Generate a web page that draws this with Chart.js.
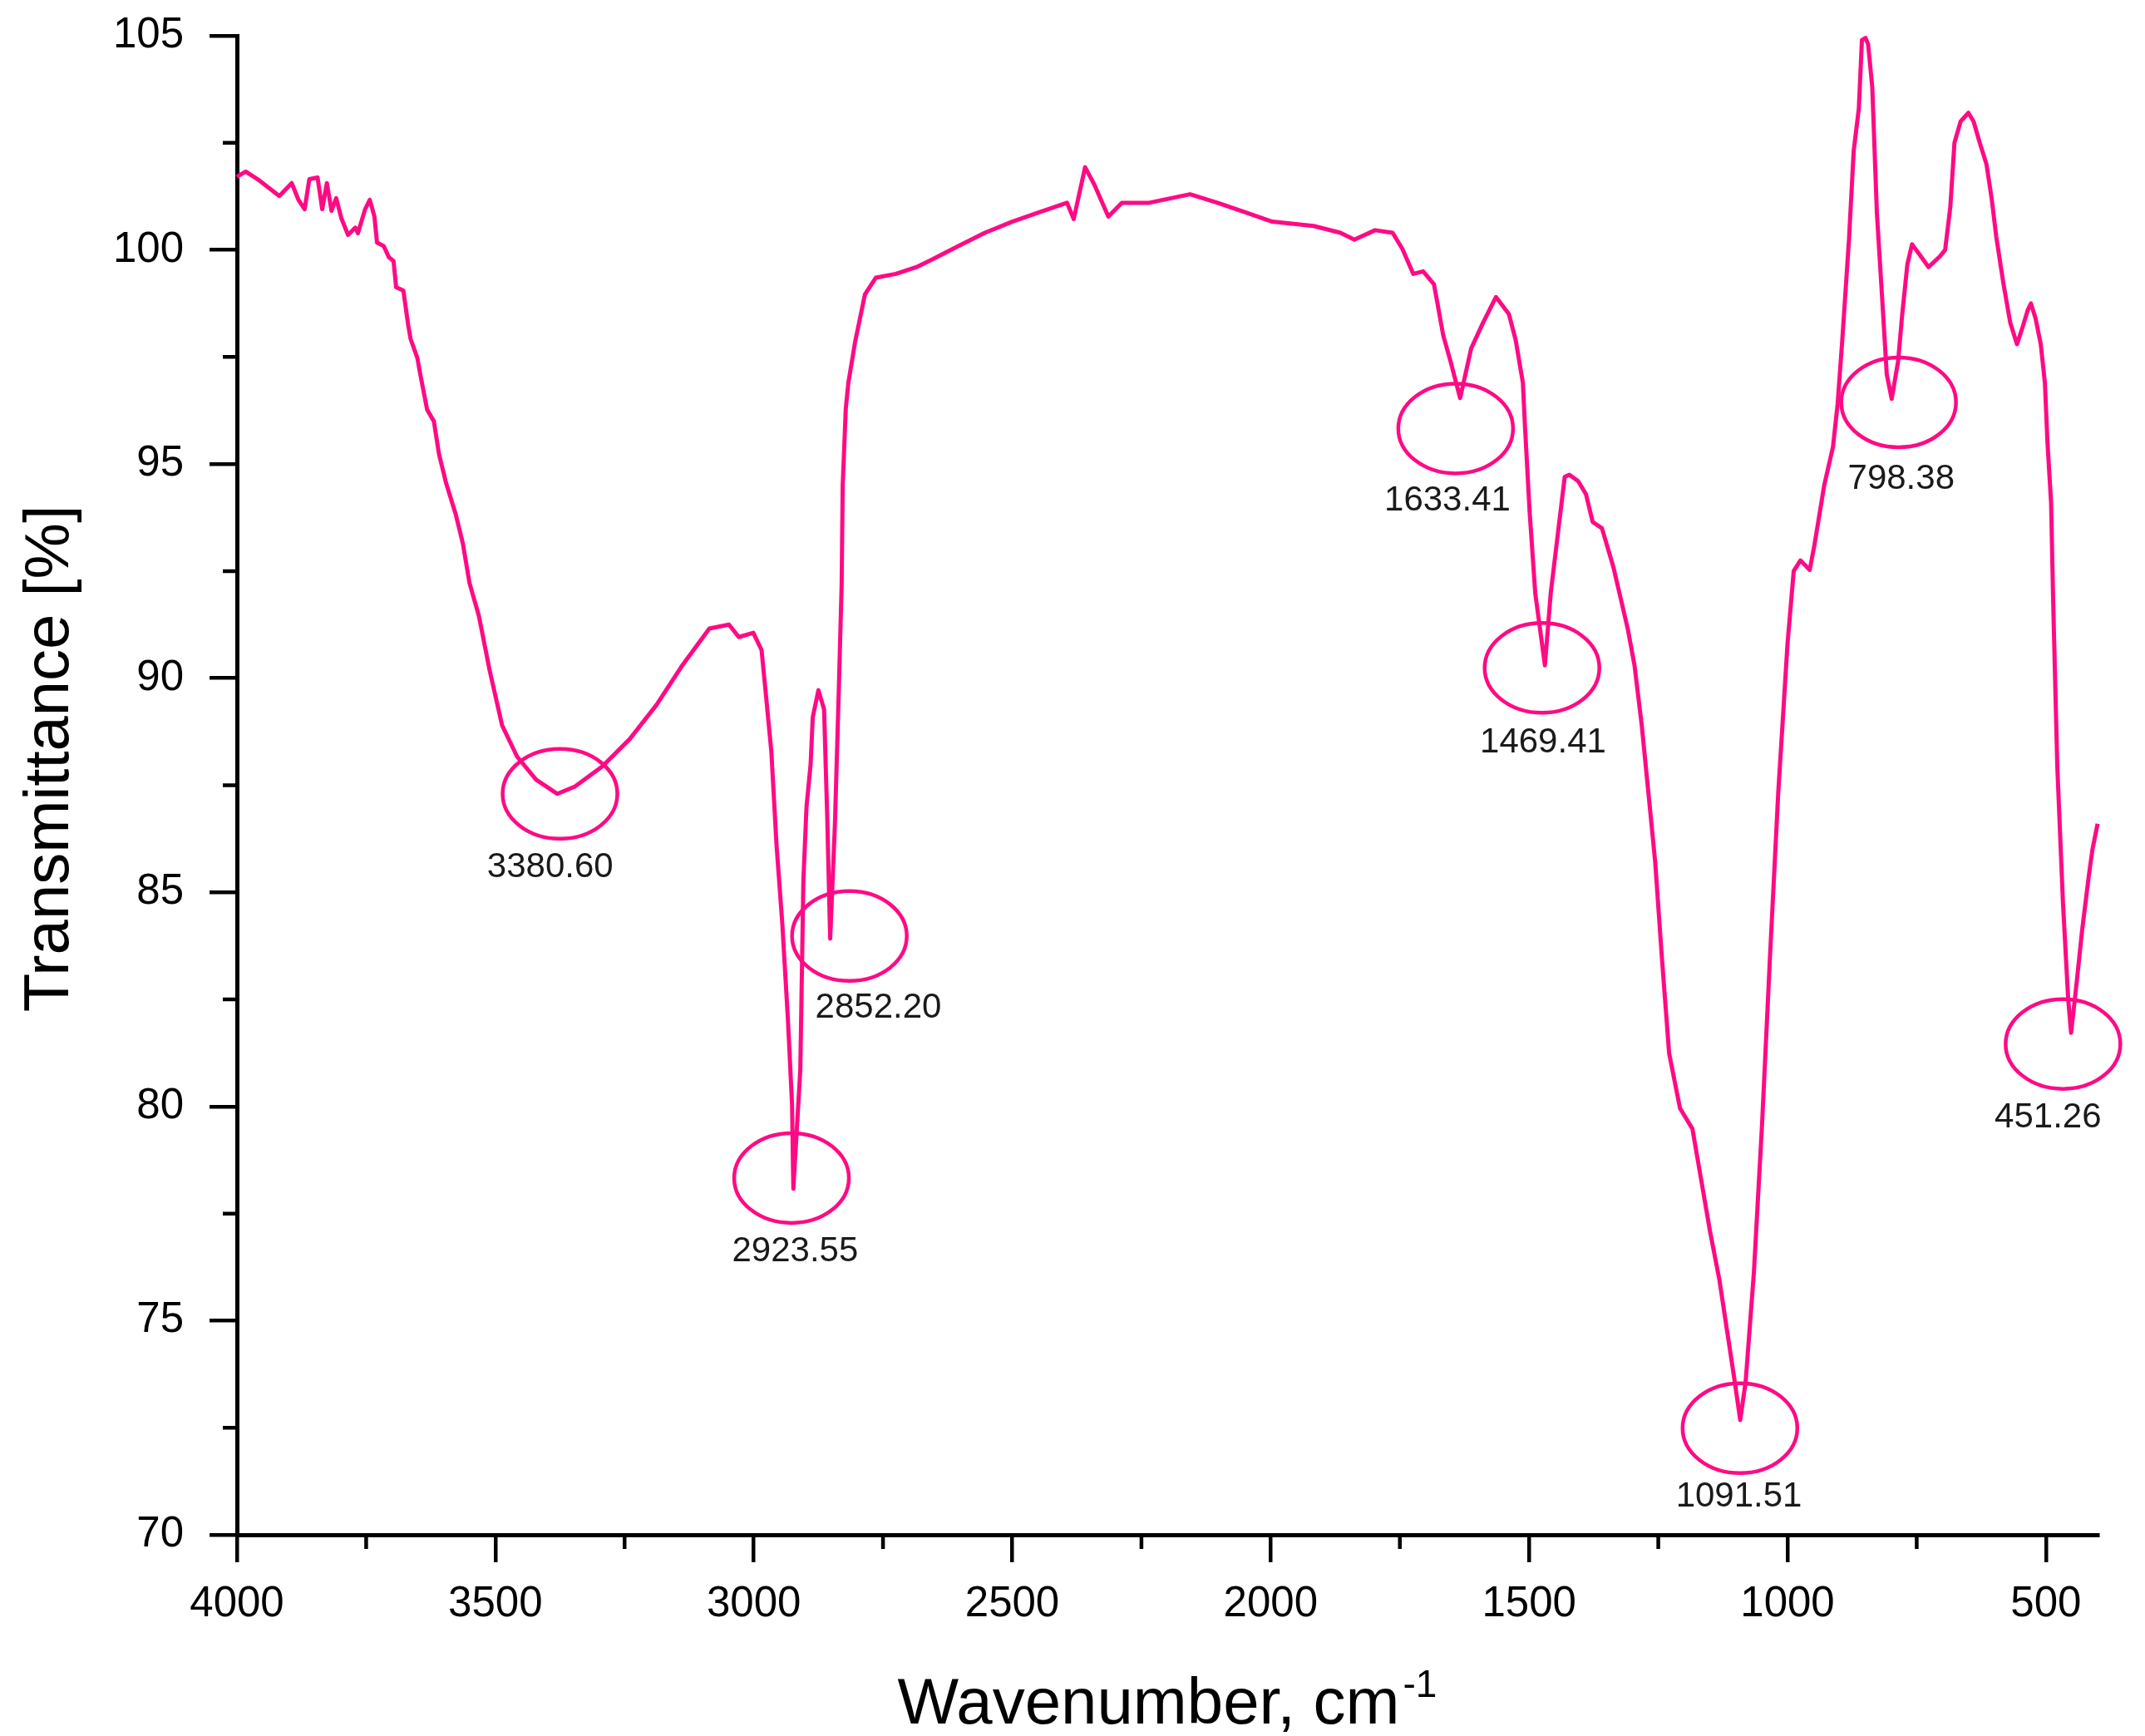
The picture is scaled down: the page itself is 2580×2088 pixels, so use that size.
<!doctype html>
<html lang="en">
<head>
  <meta charset="utf-8">
  <title>FTIR spectrum</title>
  <style>
    * {
      margin: 0;
      padding: 0;
    }

    body {
      background: #fff;
    }

    .chartBox {
      width: 2580px;
      height: 2088px;
    }
  </style>
</head>
<body>
  <div class="chartBox">
    <canvas id="myChart" width="2580" height="2088"></canvas>
  </div>
  <script src="https://cdn.jsdelivr.net/npm/chart.js"></script>
  <script>
    // data
    const wavenumber = [
      4000, 3997, 3983, 3960, 3918, 3894, 3881, 3869, 3860, 3844,
      3835, 3826, 3817, 3808, 3798, 3785, 3771, 3766, 3752, 3743,
      3734, 3729, 3716, 3706, 3697, 3692, 3678, 3669, 3664, 3651,
      3646, 3632, 3619, 3609, 3595, 3577, 3563, 3550, 3532, 3511,
      3487, 3458, 3421, 3380, 3346, 3293, 3240, 3188, 3140, 3086,
      3048, 3029, 3001, 2985, 2977, 2966, 2956, 2945, 2934, 2926,
      2923.5, 2910, 2904, 2898, 2890, 2886, 2875, 2864, 2858, 2852.2,
      2843, 2835, 2830, 2828, 2822, 2817, 2804, 2785, 2764, 2725,
      2685, 2658, 2606, 2553, 2500, 2447, 2394, 2381, 2359, 2341,
      2314, 2288, 2235, 2156, 2103, 2050, 1997, 1917, 1865, 1838,
      1798, 1764, 1745, 1724, 1705, 1684, 1666, 1652, 1633.4, 1612,
      1589, 1564, 1539, 1526, 1512, 1508, 1499, 1488, 1469.4, 1458,
      1444, 1431, 1422, 1405, 1390, 1377, 1359, 1337, 1309, 1296,
      1282, 1269, 1256, 1243, 1229, 1208, 1184, 1168, 1150, 1132,
      1116, 1102, 1091.5, 1081, 1065, 1049, 1034, 1018, 1000, 988,
      975, 957, 948, 929, 912, 903, 894, 881, 872, 862,
      856, 849, 844, 836, 827, 817, 808, 798.4, 786, 778,
      768, 759, 745, 727, 705, 695, 685, 677, 665, 650,
      640, 628, 615, 605, 596, 582, 569, 556, 545, 535,
      529, 520, 510, 502, 497, 490, 486, 478, 467, 457,
      451.3, 441, 430, 417, 410, 400
    ];
    const transmittance = [
      101.7, 101.73, 101.83, 101.65, 101.26, 101.56, 101.17, 100.95, 101.65, 101.69,
      100.95, 101.56, 100.91, 101.21, 100.74, 100.35, 100.52, 100.39, 100.95, 101.17,
      100.78, 100.17, 100.09, 99.83, 99.74, 99.13, 99.05, 98.27, 97.92, 97.48,
      97.14, 96.27, 96.0, 95.23, 94.54, 93.84, 93.15, 92.22, 91.46, 90.18,
      88.9, 88.17, 87.63, 87.3, 87.47, 87.94, 88.58, 89.38, 90.27, 91.16,
      91.25, 90.96, 91.06, 90.66, 89.67, 88.28, 86.1, 84.3, 82.04, 80.06,
      78.08, 80.86, 85.3, 87.0, 88.0, 89.08, 89.72, 89.27, 86.8, 83.92,
      86.6, 89.95, 92.2, 94.5, 96.3, 96.9, 97.85, 98.96, 99.35, 99.44,
      99.6, 99.76, 100.08, 100.4, 100.66, 100.88, 101.1, 100.72, 101.93, 101.52,
      100.78, 101.1, 101.1, 101.3, 101.1, 100.88, 100.66, 100.56, 100.4, 100.24,
      100.46, 100.4, 100.02, 99.44, 99.5, 99.2, 98.0, 97.4, 96.54, 97.7,
      98.3, 98.9, 98.5, 97.9, 96.9, 95.9, 93.9, 91.98, 90.3, 92.0,
      93.4, 94.7, 94.75, 94.6, 94.3, 93.65, 93.5, 92.6, 91.15, 90.3,
      88.9, 87.31, 85.71, 83.47, 81.24, 79.96, 79.48, 78.36, 77.09, 75.97,
      74.69, 73.57, 72.68, 73.57, 76.13, 79.64, 83.47, 87.31, 90.8, 92.5,
      92.75, 92.53, 93.1, 94.5, 95.4, 96.4, 97.9, 100.25, 102.3, 103.3,
      104.9, 104.95, 104.8, 103.8, 100.85, 98.9, 97.1, 96.52, 97.4, 98.5,
      99.67, 100.13, 99.9, 99.6, 99.85, 100.0, 101.0, 102.5, 103.0, 103.2,
      103.0, 102.5, 102.0, 101.2, 100.3, 99.2, 98.3, 97.8, 98.2, 98.6,
      98.75, 98.4, 97.8, 96.9, 95.5, 94.1, 91.8, 87.94, 84.75, 82.52,
      81.72, 82.84, 84.11, 85.39, 86.0, 86.6
    ];

    // axis ticks
    const xTicks = [4000, 3500, 3000, 2500, 2000, 1500, 1000, 500];
    const xMinor = [3750, 3250, 2750, 2250, 1750, 1250, 750];
    const yTicks = [70, 75, 80, 85, 90, 95, 100, 105];
    const yMinor = [72.5, 77.5, 82.5, 87.5, 92.5, 97.5, 102.5];

    // marked peaks: circle centre and label, in axis units
    const peakLabels = ['3380.60', '2923.55', '2852.20', '1633.41', '1469.41', '1091.51', '798.38', '451.26'];
    const peakX = [3375, 2927, 2815, 1642, 1475, 1092, 785, 467];
    const peakY = [87.3, 78.33, 83.98, 95.83, 90.24, 72.49, 96.44, 81.46];
    const labelX = [3394, 2920, 2759, 1658, 1473, 1094, 780, 496];
    const labelY = [85.58, 76.61, 82.29, 94.14, 88.49, 70.89, 94.65, 79.74];

    const pink = '#ff0a84';
    const family = '"Liberation Sans", Arial, sans-serif';

    // minor ticks, peak circles, axis titles
    const extras = {
      id: 'extras',
      afterDatasetsDraw(chart) {
        const { ctx, chartArea, scales: { x, y } } = chart;
        ctx.save();

        ctx.strokeStyle = '#000';
        ctx.lineWidth = 4.5;
        ctx.beginPath();
        xMinor.forEach(v => {
          const px = x.getPixelForValue(v);
          ctx.moveTo(px, chartArea.bottom);
          ctx.lineTo(px, chartArea.bottom + 17);
        });
        yMinor.forEach(v => {
          const py = y.getPixelForValue(v);
          ctx.moveTo(chartArea.left, py);
          ctx.lineTo(chartArea.left - 17, py);
        });
        ctx.stroke();

        ctx.strokeStyle = pink;
        ctx.lineWidth = 4.5;
        peakX.forEach((v, i) => {
          ctx.beginPath();
          ctx.ellipse(x.getPixelForValue(v), y.getPixelForValue(peakY[i]), 69, 54, 0, 0, 2 * Math.PI);
          ctx.stroke();
        });

        ctx.fillStyle = '#1a1a1a';
        ctx.font = '42px ' + family;
        ctx.textAlign = 'center';
        ctx.textBaseline = 'middle';
        peakLabels.forEach((t, i) => {
          ctx.fillText(t, x.getPixelForValue(labelX[i]), y.getPixelForValue(labelY[i]));
        });

        // y title
        ctx.fillStyle = '#000';
        ctx.save();
        ctx.translate(82, (chartArea.top + chartArea.bottom) / 2 - 32);
        ctx.rotate(-Math.PI / 2);
        ctx.font = '76px ' + family;
        ctx.textAlign = 'center';
        ctx.textBaseline = 'alphabetic';
        ctx.fillText('Transmittance [%]', 0, 0);
        ctx.restore();

        // x title with superscript
        const main = 'Wavenumber, cm';
        const sup = '-1';
        ctx.textAlign = 'left';
        ctx.textBaseline = 'alphabetic';
        ctx.font = '78px ' + family;
        const w1 = ctx.measureText(main).width;
        ctx.font = '46px ' + family;
        const w2 = ctx.measureText(sup).width;
        const startX = (chartArea.left + chartArea.right) / 2 - (w1 + 4 + w2) / 2;
        const base = chartArea.bottom + 227;
        ctx.font = '78px ' + family;
        ctx.fillText(main, startX, base);
        ctx.font = '46px ' + family;
        ctx.fillText(sup, startX + w1 + 4, base - 32);

        ctx.restore();
      }
    };

    const axisGrid = {
      drawOnChartArea: false,
      color: '#000',
      lineWidth: 4.5,
      tickColor: '#000',
      tickWidth: 4.5,
      tickLength: 33
    };

    const data = {
      datasets: [{
        label: 'Transmittance',
        data: wavenumber.map((w, i) => ({ x: w, y: transmittance[i] })),
        borderColor: pink,
        borderWidth: 5,
        borderJoinStyle: 'round',
        pointRadius: 0,
        tension: 0,
        fill: false,
        clip: false
      }]
    };

    const config = {
      type: 'line',
      data,
      options: {
        responsive: false,
        devicePixelRatio: 1,
        animation: false,
        layout: { padding: { top: 43, right: 57, left: 0, bottom: 0 } },
        plugins: {
          legend: { display: false },
          tooltip: { enabled: false }
        },
        scales: {
          x: {
            type: 'linear',
            reverse: true,
            min: 400,
            max: 4000,
            afterBuildTicks: s => { s.ticks = xTicks.map(v => ({ value: v })); },
            afterFit: s => {
              s.height = 242;
              s.paddingLeft = 0;
              s.paddingRight = 0;
            },
            grid: axisGrid,
            border: { color: '#000', width: 5 },
            ticks: {
              color: '#000',
              font: { family, size: 51 },
              padding: 20,
              maxRotation: 0,
              autoSkip: false,
              callback: v => String(v)
            }
          },
          y: {
            min: 70,
            max: 105,
            afterBuildTicks: s => { s.ticks = yTicks.map(v => ({ value: v })); },
            afterFit: s => {
              s.width = 285;
              s.paddingTop = 0;
              s.paddingBottom = 0;
            },
            grid: axisGrid,
            border: { color: '#000', width: 5 },
            ticks: { color: '#000', font: { family, size: 51 }, padding: 31, callback: v => String(v) }
          }
        }
      },
      plugins: [extras]
    };

    const myChart = new Chart(document.getElementById('myChart'), config);
  </script>
</body>
</html>
